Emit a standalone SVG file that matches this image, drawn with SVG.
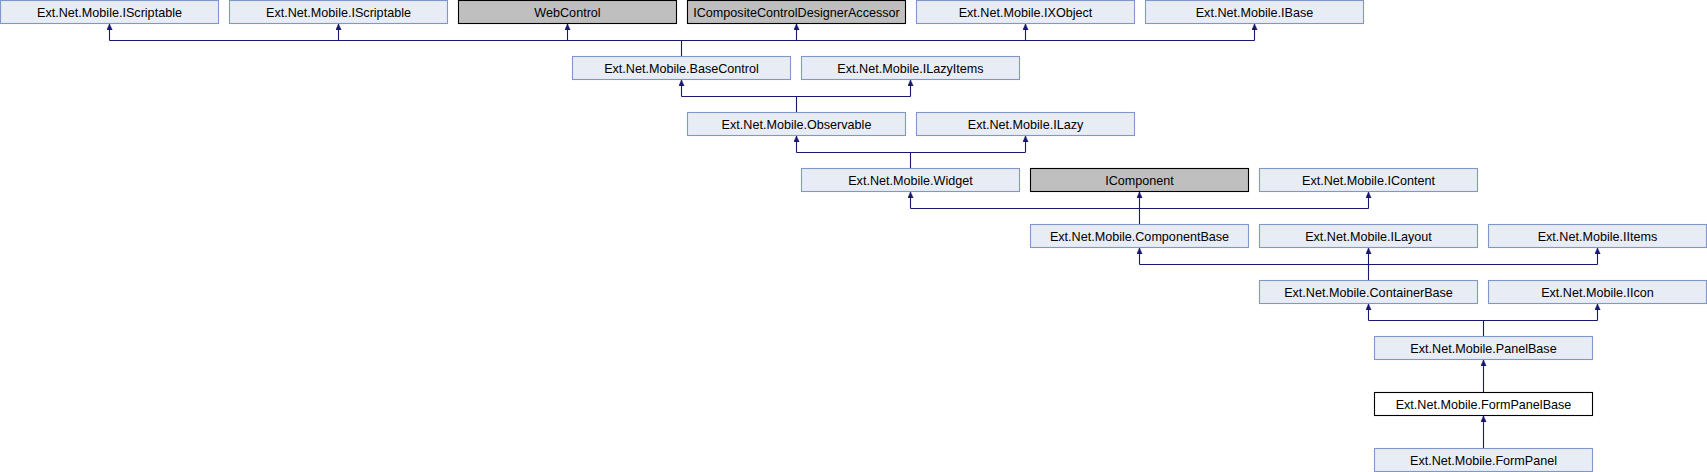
<svg xmlns="http://www.w3.org/2000/svg" width="1707" height="472" viewBox="0 0 1707 472">
<style>
.n rect{fill:#e8ecf5;stroke:#7f97c9;stroke-width:1.1}
.n.g rect{fill:#bfbfbf;stroke:#000}
.n.c rect{fill:#fff;stroke:#000}
.n text{font-family:"Liberation Sans",Arial,sans-serif;font-size:12.6px;text-anchor:middle;fill:#000}
#edges path{fill:none;stroke:#191970;stroke-width:1.1}
#edges path.a{marker-end:url(#ah)}
</style>
<defs>
<marker id="ah" viewBox="0 0 6 6" refX="6" refY="3" markerWidth="6" markerHeight="6" markerUnits="userSpaceOnUse" orient="auto">
<path d="M0,0.3 L6,3 L0,5.7 z" fill="#191970" stroke="#191970" stroke-width="0.5"/>
</marker>
</defs>
<rect width="1707" height="472" fill="#fff"/>
<g id="edges">
<path d="M109.5,40.5 H1254.5"/>
<path class="a" d="M109.5,40.5 V24"/>
<path class="a" d="M338.5,40.5 V24"/>
<path class="a" d="M567.5,40.5 V24"/>
<path class="a" d="M796.5,40.5 V24"/>
<path class="a" d="M1025.5,40.5 V24"/>
<path class="a" d="M1254.5,40.5 V24"/>
<path d="M681.5,40.5 V56.5"/>
<path d="M681.5,96.5 H910.5"/>
<path class="a" d="M681.5,96.5 V80"/>
<path class="a" d="M910.5,96.5 V80"/>
<path d="M796.5,96.5 V112.5"/>
<path d="M796.5,152.5 H1025.5"/>
<path class="a" d="M796.5,152.5 V136"/>
<path class="a" d="M1025.5,152.5 V136"/>
<path d="M910.5,152.5 V168.5"/>
<path d="M910.5,208.5 H1368.5"/>
<path class="a" d="M910.5,208.5 V192"/>
<path class="a" d="M1139.5,224.5 V192"/>
<path class="a" d="M1368.5,208.5 V192"/>
<path d="M1139.5,264.5 H1597.5"/>
<path class="a" d="M1139.5,264.5 V248"/>
<path class="a" d="M1368.5,280.5 V248"/>
<path class="a" d="M1597.5,264.5 V248"/>
<path d="M1368.5,320.5 H1597.5"/>
<path class="a" d="M1368.5,320.5 V304"/>
<path class="a" d="M1597.5,320.5 V304"/>
<path d="M1483.5,320.5 V336.5"/>
<path class="a" d="M1483.5,392.5 V360"/>
<path class="a" d="M1483.5,448.5 V416"/>
</g>
<g id="n1" class="n"><rect x="0.5" y="0.5" width="218" height="23"/><text x="109.5" y="16.5">Ext.Net.Mobile.IScriptable</text></g>
<g id="n2" class="n"><rect x="229.5" y="0.5" width="218" height="23"/><text x="338.5" y="16.5">Ext.Net.Mobile.IScriptable</text></g>
<g id="n3" class="n g"><rect x="458.5" y="0.5" width="218" height="23"/><text x="567.5" y="16.5">WebControl</text></g>
<g id="n4" class="n g"><rect x="687.5" y="0.5" width="218" height="23"/><text x="796.5" y="16.5">ICompositeControlDesignerAccessor</text></g>
<g id="n5" class="n"><rect x="916.5" y="0.5" width="218" height="23"/><text x="1025.5" y="16.5">Ext.Net.Mobile.IXObject</text></g>
<g id="n6" class="n"><rect x="1145.5" y="0.5" width="218" height="23"/><text x="1254.5" y="16.5">Ext.Net.Mobile.IBase</text></g>
<g id="n7" class="n"><rect x="572.5" y="56.5" width="218" height="23"/><text x="681.5" y="72.5">Ext.Net.Mobile.BaseControl</text></g>
<g id="n8" class="n"><rect x="801.5" y="56.5" width="218" height="23"/><text x="910.5" y="72.5">Ext.Net.Mobile.ILazyItems</text></g>
<g id="n9" class="n"><rect x="687.5" y="112.5" width="218" height="23"/><text x="796.5" y="128.5">Ext.Net.Mobile.Observable</text></g>
<g id="n10" class="n"><rect x="916.5" y="112.5" width="218" height="23"/><text x="1025.5" y="128.5">Ext.Net.Mobile.ILazy</text></g>
<g id="n11" class="n"><rect x="801.5" y="168.5" width="218" height="23"/><text x="910.5" y="184.5">Ext.Net.Mobile.Widget</text></g>
<g id="n12" class="n g"><rect x="1030.5" y="168.5" width="218" height="23"/><text x="1139.5" y="184.5">IComponent</text></g>
<g id="n13" class="n"><rect x="1259.5" y="168.5" width="218" height="23"/><text x="1368.5" y="184.5">Ext.Net.Mobile.IContent</text></g>
<g id="n14" class="n"><rect x="1030.5" y="224.5" width="218" height="23"/><text x="1139.5" y="240.5">Ext.Net.Mobile.ComponentBase</text></g>
<g id="n15" class="n"><rect x="1259.5" y="224.5" width="218" height="23"/><text x="1368.5" y="240.5">Ext.Net.Mobile.ILayout</text></g>
<g id="n16" class="n"><rect x="1488.5" y="224.5" width="218" height="23"/><text x="1597.5" y="240.5">Ext.Net.Mobile.IItems</text></g>
<g id="n17" class="n"><rect x="1259.5" y="280.5" width="218" height="23"/><text x="1368.5" y="296.5">Ext.Net.Mobile.ContainerBase</text></g>
<g id="n18" class="n"><rect x="1488.5" y="280.5" width="218" height="23"/><text x="1597.5" y="296.5">Ext.Net.Mobile.IIcon</text></g>
<g id="n19" class="n"><rect x="1374.5" y="336.5" width="218" height="23"/><text x="1483.5" y="352.5">Ext.Net.Mobile.PanelBase</text></g>
<g id="n20" class="n c"><rect x="1374.5" y="392.5" width="218" height="23"/><text x="1483.5" y="408.5">Ext.Net.Mobile.FormPanelBase</text></g>
<g id="n21" class="n"><rect x="1374.5" y="448.5" width="218" height="23"/><text x="1483.5" y="464.5">Ext.Net.Mobile.FormPanel</text></g>
</svg>
